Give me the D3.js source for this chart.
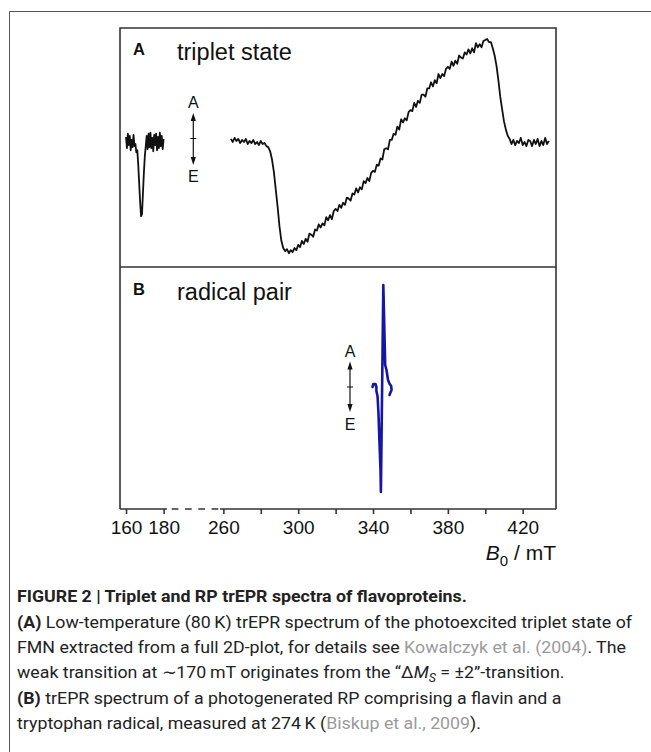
<!DOCTYPE html>
<html><head><meta charset="utf-8">
<script src="https://cdn.jsdelivr.net/npm/d3@7"></script>
<style>
body{margin:0;background:#fff}
svg{display:block}
</style></head><body>
<script>
// ---------- data ----------
const tickValues = [160,180,260,280,300,320,340,360,380,400,420];
const tickLabels = ["160","180","260","","300","","340","","380","","420"];

// weak half-field transition, 160–180 mT, 0.5 mT sampling
const lowStart = 160, lowStep = 0.5;
const lowTriplet = [0.05,-0.06,0.08,-0.03,0.06,-0.08,0.02,-0.05,0.07,-0.04,
  -0.02,-0.10,-0.08,-0.22,-0.40,-0.58,-0.72,-0.70,-0.50,-0.30,
  -0.14,-0.04,0.06,-0.07,0.08,-0.05,0.09,-0.06,0.04,-0.09,
  0.07,-0.03,0.08,-0.08,0.05,-0.06,0.09,-0.04,0.06,-0.07,0.03];

// main triplet spectrum, 264–434 mT, 1 mT sampling
const mainStart = 264, mainStep = 1;
const mainTriplet = [
  0.03,0.00,0.04,0.01,0.03,-0.01,0.02,0.00,0.03,-0.02,
  0.01,-0.01,0.02,-0.02,0.00,-0.03,0.01,-0.02,-0.01,-0.04,
  -0.05,-0.09,-0.17,-0.29,-0.46,-0.63,-0.82,-0.96,-1.03,-1.06,
  -1.04,-1.08,-1.05,-1.07,-1.03,-1.05,-1.00,-1.02,-0.96,-0.99,
  -0.94,-0.97,-0.89,-0.90,-0.92,-0.85,-0.86,-0.80,-0.83,-0.79,
  -0.81,-0.73,-0.76,-0.71,-0.75,-0.67,-0.65,-0.67,-0.61,-0.64,
  -0.59,-0.61,-0.54,-0.55,-0.57,-0.50,-0.51,-0.45,-0.49,-0.44,
  -0.46,-0.38,-0.40,-0.35,-0.38,-0.30,-0.28,-0.29,-0.22,-0.23,
  -0.16,-0.17,-0.07,-0.06,-0.07,0.02,0.02,0.08,0.07,0.15,
  0.12,0.22,0.19,0.23,0.21,0.29,0.31,0.30,0.38,0.34,
  0.40,0.38,0.46,0.46,0.44,0.52,0.52,0.58,0.54,0.60,
  0.57,0.66,0.62,0.66,0.64,0.71,0.73,0.71,0.78,0.74,
  0.79,0.76,0.84,0.82,0.81,0.87,0.85,0.90,0.86,0.91,
  0.87,0.96,0.92,0.95,0.92,0.98,0.99,1.00,0.97,0.97,
  0.91,0.84,0.74,0.60,0.44,0.32,0.20,0.12,0.06,0.03,
  -0.02,0.02,-0.03,0.01,-0.01,0.04,-0.03,0.00,-0.04,0.02,
  0.01,-0.04,0.02,-0.02,0.03,-0.04,0.01,-0.03,0.04,-0.02,
  0.01];

// radical pair spectrum (field mT, signal)
const rpField  = [339.7,340.2,341.3,341.8,341.8,342.4,342.9,343.4,344.0,344.2,345.5,346.5,347.2,348.0,348.9,349.7,349.9,349.2,348.8];
const rpSignal = [0.00,0.03,0.03,0.00,-0.04,-0.09,-0.26,-0.53,-0.83,-1.05,1.02,0.22,0.17,0.07,0.03,0.01,-0.03,-0.06,-0.08];

// ---------- drawing ----------
const W = 651, H = 752;
const svg = d3.select("body").append("svg").attr("width", W).attr("height", H);
const FONT = "'Liberation Sans', Arial, Helvetica, sans-serif";

// outer figure frame
svg.append("path").attr("d", "M9.5,752 L9.5,11.5 L651,11.5")
  .attr("fill", "none").attr("stroke", "#555").attr("stroke-width", 1);

const x = d3.scaleLinear().domain([156.8, 181.8, 258.2, 437.8]).range([120, 167, 220, 556]);
const yTop = d3.scaleLinear().domain([-1.214, 1.107]).range([267, 28]);
const yBot = d3.scaleLinear().domain([-1.22, 1.2]).range([509, 267]);

const frameColor = "#333";
svg.append("path")
  .attr("d", "M120,509 L120,28 L556,28 L556,509 M120,267 L556,267")
  .attr("fill", "none").attr("stroke", frameColor).attr("stroke-width", 1.6);

// axis
const r = x.range();
const axisY = 509;
svg.append("line").attr("x1", r[0]).attr("x2", r[1]).attr("y1", axisY).attr("y2", axisY)
  .attr("stroke", frameColor).attr("stroke-width", 1.6);
svg.append("line").attr("x1", r[1] + 4.7).attr("x2", r[2] - 1.7).attr("y1", axisY).attr("y2", axisY)
  .attr("stroke", frameColor).attr("stroke-width", 1.6).attr("stroke-dasharray", "6.7,6.6");
svg.append("line").attr("x1", r[2]).attr("x2", r[3]).attr("y1", axisY).attr("y2", axisY)
  .attr("stroke", frameColor).attr("stroke-width", 1.6);

const axis = d3.axisBottom(x).tickValues(tickValues).tickSize(5).tickPadding(7)
  .tickFormat((d, i) => tickLabels[i]);
const ag = svg.append("g").attr("transform", `translate(0,${axisY})`).call(axis);
ag.select(".domain").remove();
ag.selectAll(".tick line").attr("stroke", frameColor).attr("stroke-width", 1.6);
ag.selectAll(".tick text").attr("font-family", FONT).attr("font-size", 19).attr("fill", "#111");

// axis title B0 / mT
const at = svg.append("text").attr("x", 556).attr("y", 560).attr("text-anchor", "end")
  .attr("font-family", FONT).attr("font-size", 21).attr("fill", "#111");
at.append("tspan").attr("font-style", "italic").text("B");
at.append("tspan").attr("dy", 6).attr("font-size", 15).text("0");
at.append("tspan").attr("dy", -6).text(" / mT");

// spectra
const lowData = lowTriplet.map((v, i) => [lowStart + i * lowStep, v]);
const mainData = mainTriplet.map((v, i) => [mainStart + i * mainStep, v]);
const lineTop = d3.line().x(d => x(d[0])).y(d => yTop(d[1]));
[lowData, mainData].forEach(data => {
  svg.append("path").attr("d", lineTop(data)).attr("fill", "none")
    .attr("stroke", "#111").attr("stroke-width", 1.8).attr("stroke-linejoin", "round");
});
const rpData = rpField.map((b, i) => [b, rpSignal[i]]);
svg.append("path").attr("d", d3.line().x(d => x(d[0])).y(d => yBot(d[1]))(rpData))
  .attr("fill", "none").attr("stroke", "#1515a8").attr("stroke-width", 2.6)
  .attr("stroke-linejoin", "round").attr("stroke-linecap", "round");

// panel labels
function panelLabel(letter, title, yb, yt) {
  svg.append("text").attr("x", 133).attr("y", yb).attr("font-family", FONT)
    .attr("font-weight", "bold").attr("font-size", 16.5).attr("fill", "#111").text(letter);
  svg.append("text").attr("x", 177).attr("y", yt).attr("font-family", FONT)
    .attr("font-size", 23.5).attr("fill", "#111").text(title);
}
panelLabel("A", "triplet state", 55, 59.5);
panelLabel("B", "radical pair", 295, 299.5);

// A/E arrows
function aeArrow(cx, yA, top, mid, bot, yE) {
  const g = svg.append("g");
  g.append("text").attr("x", cx).attr("y", yA).attr("text-anchor", "middle")
    .attr("font-family", FONT).attr("font-size", 16).attr("fill", "#111").text("A");
  g.append("text").attr("x", cx).attr("y", yE).attr("text-anchor", "middle")
    .attr("font-family", FONT).attr("font-size", 16).attr("fill", "#111").text("E");
  g.append("line").attr("x1", cx).attr("x2", cx).attr("y1", top + 5).attr("y2", bot - 5)
    .attr("stroke", "#111").attr("stroke-width", 1.2);
  g.append("line").attr("x1", cx - 3).attr("x2", cx + 3).attr("y1", mid).attr("y2", mid)
    .attr("stroke", "#111").attr("stroke-width", 1);
  g.append("path").attr("d", `M${cx},${top} L${cx - 2.6},${top + 8} L${cx + 2.6},${top + 8} Z`).attr("fill", "#111");
  g.append("path").attr("d", `M${cx},${bot} L${cx - 2.6},${bot - 8} L${cx + 2.6},${bot - 8} Z`).attr("fill", "#111");
}
aeArrow(193.3, 108, 113, 138.5, 165, 182);
aeArrow(350, 357, 361.5, 387, 412, 430);

// caption
const CAP = "Roboto, 'Liberation Sans', Arial, sans-serif";
const capX = 17;
const capLines = [
  [{t: "FIGURE 2 | Triplet and RP trEPR spectra of flavoproteins.", b: true}],
  [{t: "(A)", b: true}, {t: " Low-temperature (80\u2009K) trEPR spectrum of the photoexcited triplet state of"}],
  [{t: "FMN extracted from a full 2D-plot, for details see "}, {t: "Kowalczyk et al. (2004)", g: true}, {t: ". The"}],
  [{t: "weak transition at \u223c170\u2009mT originates from the \u201c\u0394"}, {t: "M", i: true}, {t: "S", i: true, sub: true}, {t: " = \u00b12\u201d-transition.", up: true}],
  [{t: "(B)", b: true}, {t: " trEPR spectrum of a photogenerated RP comprising a flavin and a"}],
  [{t: "tryptophan radical, measured at 274\u2009K ("}, {t: "Biskup et al., 2009", g: true}, {t: ")."}]
];
const capY = [602, 628, 653, 678, 704, 729];
const capTexts = capLines.map((segs, li) => {
  const t = svg.append("text").attr("x", capX).attr("y", capY[li])
    .attr("font-family", CAP).attr("font-size", 17).attr("fill", "#222");
  segs.forEach(s => {
    const ts = t.append("tspan").text(s.t);
    if (s.b) ts.attr("font-weight", "bold");
    if (s.i) ts.attr("font-style", "italic");
    if (s.g) ts.attr("fill", "#9a9a9a");
    if (s.sub) ts.attr("dy", 4).attr("font-size", 12);
    if (s.up) ts.attr("dy", -4);
  });
  return t;
});
// emulate the condensed caption face: compress all lines by the same factor
const natural = capTexts.map(t => t.node().getComputedTextLength());
const f = 615 / natural[1];
capTexts.forEach((t, i) => t.attr("textLength", natural[i] * f).attr("lengthAdjust", "spacingAndGlyphs"));
</script>
</body></html>
